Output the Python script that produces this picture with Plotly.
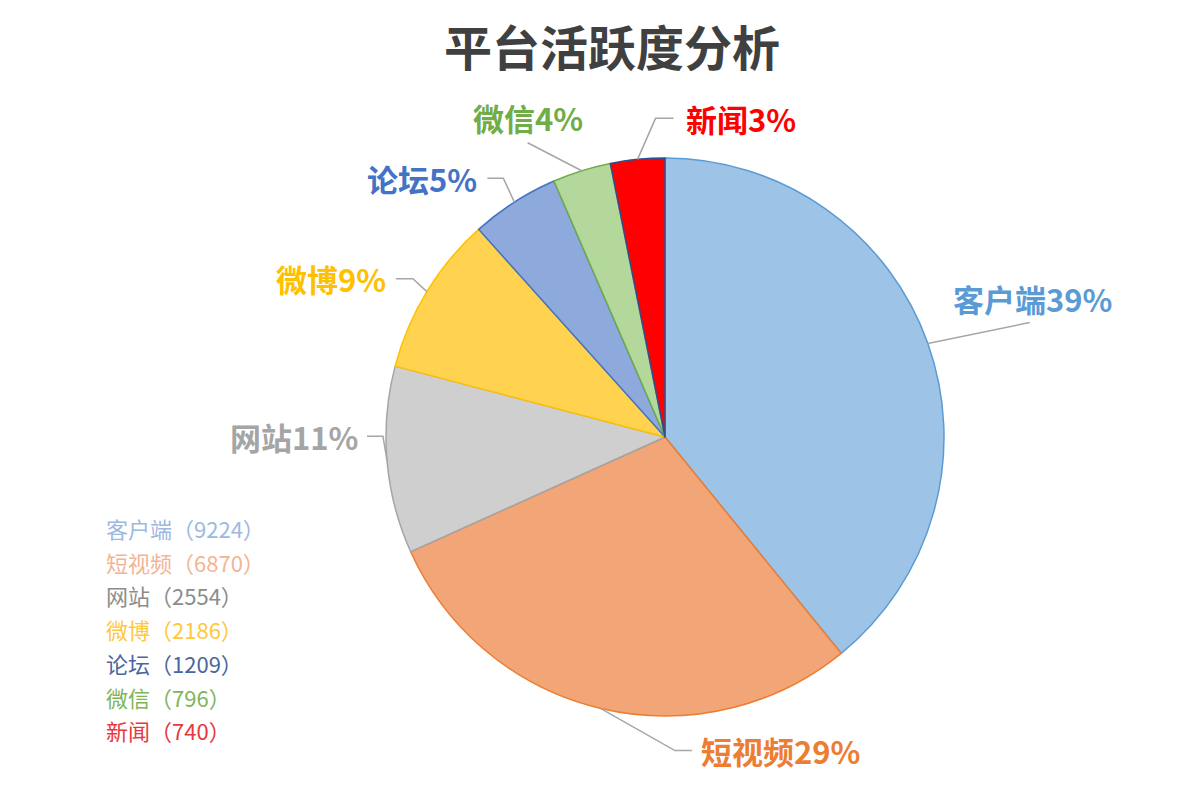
import math
import plotly.graph_objects as go

# données
platforms = ['客户端', '短视频', '网站', '微博', '论坛', '微信', '新闻']
counts = [9224, 6870, 2554, 2186, 1209, 796, 740]
pct_labels = [39, 29, 11, 9, 5, 4, 3]

# couleurs
slice_colors = ['#9DC3E6', '#F2A577', '#CFCFCF', '#FFD34F', '#8EA9DB', '#B4D79C', '#FF0000']
edge_colors = ['#5B9BD5', '#ED7D31', '#A5A5A5', '#FFC000', '#4472C4', '#70AD47', '#2F4F8F']
text_colors = ['#5B9BD5', '#ED7D31', '#A5A5A5', '#FFC000', '#4472C4', '#70AD47', '#FF0000']
legend_colors = ['#9DB9E0', '#F4B494', '#8C8C8C', '#FFC83D', '#4A66A0', '#7DB55A', '#E8383D']

W, H = 1200, 792
OFF = 8  # marge du body de la page
cx, cy, R = 665 - OFF, 437 - OFF, 279
FONT = 'Noto Sans CJK SC'

# placement des étiquettes (décalages en px depuis le bord de la part)
# (coude dx, coude dy, longueur du trait horizontal, texte dx, texte dy, ancrage)
label_layout = [
    (102, -21, 0, 3, -24, 'center'),
    (74, 42, 17, 7, 0, 'left'),
    (-4, -24, -16, -7, 0, 'right'),
    (-14, -13, -17, -8, 0, 'right'),
    (-11, -24, -16, -8, 0, 'right'),
    (-54, -28, 0, 0, -25, 'center'),
    (18, -41, 18, 10, 0, 'left'),
]


def px(x, y):
    return x / W, 1 - y / H


fig = go.Figure()
fig.add_trace(go.Pie(
    labels=platforms,
    values=counts,
    sort=False,
    direction='clockwise',
    rotation=0,
    textinfo='none',
    hoverinfo='label+value+percent',
    marker=dict(colors=slice_colors, line=dict(color=edge_colors, width=1.5)),
    domain=dict(x=[(cx - R) / W, (cx + R) / W], y=[1 - (cy + R) / H, 1 - (cy - R) / H]),
    showlegend=False,
))

total = sum(counts)
cum = 0
shapes = []
annotations = []
for i, (name, v) in enumerate(zip(platforms, counts)):
    mid = (cum + v / 2) / total * 2 * math.pi
    cum += v
    ex, ey = cx + R * math.sin(mid), cy - R * math.cos(mid)
    edx, edy, tail, tdx, tdy, anchor = label_layout[i]
    bx, by = ex + edx, ey + edy
    tx, ty = bx + tail, by
    p0, p1, p2 = px(ex, ey), px(bx, by), px(tx, ty)
    path = f'M {p0[0]},{p0[1]} L {p1[0]},{p1[1]}'
    if tail:
        path += f' L {p2[0]},{p2[1]}'
    shapes.append(dict(type='path', path=path, xref='paper', yref='paper',
                       line=dict(color='#A6A6A6', width=1.5)))
    lx, ly = px(tx + tdx, ty + tdy)
    annotations.append(dict(
        x=lx, y=ly, xref='paper', yref='paper', showarrow=False,
        xanchor=anchor, yanchor='middle',
        text=f'<b>{name}{pct_labels[i]}%</b>',
        font=dict(family=FONT, size=31, color=text_colors[i]),
    ))

# légende texte en bas à gauche
for i, (name, v) in enumerate(zip(platforms, counts)):
    lx, ly = px(104 - OFF, 528 - OFF + i * 33.7)
    annotations.append(dict(
        x=lx, y=ly, xref='paper', yref='paper', showarrow=False,
        xanchor='left', yanchor='middle',
        text=f'{name}（{v}）',
        font=dict(family=FONT, size=22, color=legend_colors[i]),
    ))

# titre
tx0, ty0 = px(612 - OFF, 45 - OFF)
annotations.append(dict(
    x=tx0, y=ty0, xref='paper', yref='paper', showarrow=False,
    xanchor='center', yanchor='middle',
    text='<b>平台活跃度分析</b>',
    font=dict(family=FONT, size=48, color='#404040'),
))

fig.update_layout(
    shapes=shapes,
    annotations=annotations,
    margin=dict(l=0, r=0, t=0, b=0),
    paper_bgcolor='white',
    plot_bgcolor='white',
    width=W,
    height=H,
)

fig.write_html('out.html')
